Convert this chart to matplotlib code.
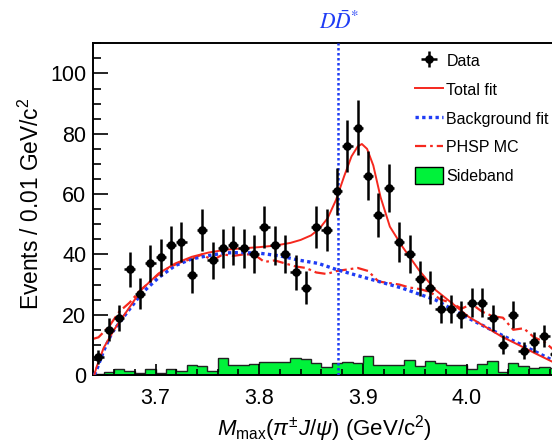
import numpy as np
import matplotlib
matplotlib.use("Agg")
from matplotlib import pyplot as plt
from matplotlib.lines import Line2D
from matplotlib.patches import Patch
from matplotlib.ticker import MultipleLocator

plt.rcParams['font.family'] = ['Liberation Sans', 'DejaVu Sans']
plt.rcParams['mathtext.fontset'] = 'custom'
plt.rcParams['mathtext.rm'] = 'Liberation Sans'
plt.rcParams['mathtext.it'] = 'Liberation Sans:italic'

# data histogram, 0.01 GeV bins
bin_edges = np.round(np.arange(3.64, 4.0901, 0.01), 3)
bin_centers = bin_edges[:-1] + 0.005
data_counts = [6, 15, 19, 35, 27, 37, 39, 43, 44, 33,
               48, 38, 42, 43, 42, 40, 49, 43, 40, 34,
               29, 49, 48, 61, 76, 82, 66, 53, 62, 44,
               40, 32, 29, 22, 22, 20, 24, 24, 19, 10,
               20, 8, 11, 13, 7]
sideband = [0.4, 0.9, 1.9, 1.4, 0.7, 1.9, 0.8, 2.1, 1.3, 3.2,
            3.0, 1.3, 5.5, 3.3, 3.3, 3.6, 4.2, 4.2, 4.2, 5.5,
            5.2, 3.9, 2.8, 3.9, 4.2, 3.9, 6.3, 3.3, 3.3, 3.3,
            5.0, 3.1, 4.5, 3.9, 3.3, 3.3, 1.9, 3.6, 4.5, 1.0,
            4.0, 3.1, 2.4, 2.5, 2.4]
phsp_mc = [12.5, 16, 21, 24, 28, 31, 34, 36, 37.5, 38.5,
           40, 38, 40, 39.5, 40, 40, 37.5, 38, 37, 36,
           35.5, 34, 33.5, 34.5, 35, 35.5, 34.5, 31, 30.5, 30,
           29, 28.5, 27.5, 25, 24, 22, 23.5, 21, 19.5, 19,
           15, 15.5, 12.5, 11, 8]

# fit curves
fit_x = [3.641, 3.643, 3.650, 3.660, 3.672, 3.687, 3.703, 3.719, 3.735, 3.751,
         3.767, 3.783, 3.800, 3.815, 3.830, 3.840, 3.850, 3.858, 3.866, 3.874,
         3.882, 3.889, 3.895, 3.899, 3.904, 3.910, 3.917, 3.926, 3.938, 3.954,
         3.970, 3.986, 4.002, 4.018, 4.034, 4.050, 4.066, 4.088]
total_fit = [0.0, 2.5, 9.0, 15.0, 21.0, 28.5, 33.7, 37.0, 39.2, 40.6,
             41.5, 42.0, 42.4, 42.9, 43.8, 44.8, 46.3, 48.5, 52.0, 58.0,
             66.0, 72.5, 75.8, 76.6, 75.0, 69.5, 59.0, 49.2, 42.6, 34.8,
             28.2, 23.8, 19.3, 16.0, 12.7, 10.0, 7.2, 3.5]
bkg_x = [3.641, 3.643, 3.650, 3.658, 3.672, 3.687, 3.703, 3.719, 3.735, 3.751,
         3.767, 3.783, 3.800, 3.820, 3.838, 3.857, 3.876, 3.905, 3.938, 3.970,
         4.002, 4.034, 4.066, 4.088]
bkg_fit = [0.0, 1.5, 8.0, 14.0, 20.5, 27.2, 32.3, 36.3, 38.5, 39.6,
           40.5, 40.6, 40.4, 39.5, 38.1, 37.0, 34.8, 32.0, 28.8, 24.9,
           18.8, 13.2, 7.8, 4.0]
dd_threshold = 3.8757

fig = plt.figure(figsize=(5.52, 4.45), dpi=100)
ax = fig.add_axes([93.3 / 552, 70 / 445, 477 / 552, 331.7 / 445])

red = '#f5281e'
blue = '#1f3cf5'
green = '#00f23a'

ax.stairs(sideband, bin_edges, fill=True, color=green, zorder=1)
ax.stairs(sideband, bin_edges, color='#222222', lw=1.0, zorder=1.5)

ax.plot(np.concatenate([[3.64], bin_centers]), [12] + phsp_mc, color=red, lw=1.6,
        ls=(0, (5, 1.8, 1.2, 1.8)), zorder=2)
ax.plot(bkg_x, bkg_fit, color=blue, lw=2.4, ls=(0, (1, 1)), zorder=3)
ax.plot(fit_x, total_fit, color=red, lw=1.4, zorder=4)
ax.axvline(dd_threshold, color=blue, lw=1.8, ls=(0, (1, 1)), zorder=3)

err = ax.errorbar(bin_centers, data_counts, yerr=np.sqrt(data_counts), xerr=0.005,
                  fmt='o', color='black', ms=5.2, elinewidth=1.8, capsize=0, zorder=5)

ax.set_xlim(3.64, 4.10)
ax.set_ylim(0, 110)
ax.xaxis.set_major_locator(MultipleLocator(0.1))
ax.xaxis.set_minor_locator(MultipleLocator(0.02))
ax.yaxis.set_major_locator(MultipleLocator(20))
ax.yaxis.set_minor_locator(MultipleLocator(5))
ax.tick_params(axis='both', which='both', direction='in', labelsize=15.5, width=1.2)
ax.tick_params(axis='y', which='major', length=11, pad=5)
ax.tick_params(axis='y', which='minor', length=6)
ax.tick_params(axis='x', which='major', length=8, pad=9)
ax.tick_params(axis='x', which='minor', length=4)
ax.set_xticks([3.7, 3.8, 3.9, 4.0])
ax.set_xticklabels(['3.7', '3.8', '3.9', '4.0'])
for s in ax.spines.values():
    s.set_linewidth(1.4)

ax.set_xlabel(r'$M_{\mathrm{max}}(\pi^{\pm}J/\psi)$ (GeV/c$^{2}$)', fontsize=16)
ax.xaxis.set_label_coords(0.4837, -0.115)
ax.set_ylabel(r'Events / 0.01 GeV/c$^{2}$', fontsize=16.4)
ax.yaxis.set_label_coords(-0.103, 0.5155)

ax.text(dd_threshold + 0.001, 1.063, r'$D\bar{D}^{*}$', transform=ax.get_xaxis_transform(),
        ha='center', va='center', color=blue, fontsize=15.5, math_fontfamily='stix')

handles = [err,
           Line2D([], [], color=red, lw=1.4),
           Line2D([], [], color=blue, lw=2.4, ls=(0, (1, 1))),
           Line2D([], [], color=red, lw=1.6, ls=(0, (5, 1.8, 1.2, 1.8))),
           Patch(facecolor=green, edgecolor='black', lw=1.0)]
labels = ['Data', 'Total fit', 'Background fit', 'PHSP MC', 'Sideband']
ax.legend(handles, labels, loc='upper left', bbox_to_anchor=(415 / 552, 1 - 52.5 / 445),
          bbox_transform=fig.transFigure, frameon=False, fontsize=11.5,
          borderpad=0, borderaxespad=0, handlelength=1.75, handleheight=1.25,
          handletextpad=0.22, labelspacing=0.74)

fig.savefig('out.png', dpi=100)
